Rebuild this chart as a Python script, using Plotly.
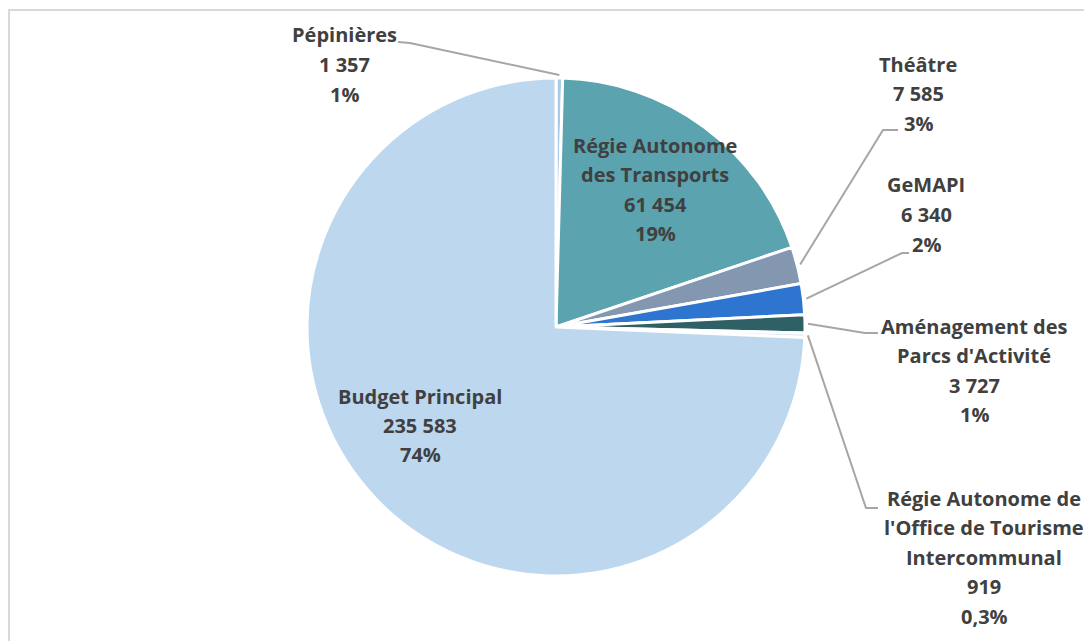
import math
import plotly.graph_objects as go

W, H = 1092, 641
OFF = 8  # page body margin

# data (clockwise from 12 o'clock)
names = [
    ["Pépinières"],
    ["Régie Autonome", "des Transports"],
    ["Théâtre"],
    ["GeMAPI"],
    ["Aménagement des", "Parcs d'Activité"],
    ["Régie Autonome de", "l'Office de Tourisme", "Intercommunal"],
    ["Budget Principal"],
]
values = [1357, 61454, 7585, 6340, 3727, 919, 235583]
pct_labels = ["1%", "19%", "3%", "2%", "1%", "0,3%", "74%"]
colors = ["#A9CBEA", "#5BA3AF", "#8497B0", "#2E75D0", "#2F6066", "#DDEBF7", "#BDD7EE"]

# layout: pie centre / radius in pixels, label placement
CX, CY, R = 556, 327, 249
label_pos = [(344, 35), (655, 145), (918, 64), (926, 185), (974, 326), (984, 498), (420, 396)]
line_step = 29.5
# leader lines (elbow, end) for outside labels, None for inside labels
leaders = [((410, 43), (398, 42)), None, ((883, 130), (898, 130)), ((902, 253), (909, 253)),
           ((865, 333), (878, 333)), ((866, 508), (878, 508)), None]

TEXT = "#404040"
FONT = "'Open Sans', sans-serif"


def px(x, y):
    return (x - OFF) / W, 1 - (y - OFF) / H


d0 = px(CX - R, CY + R)
d1 = px(CX + R, CY - R)
fig = go.Figure(go.Pie(
    labels=[" ".join(n) for n in names],
    values=values,
    sort=False,
    direction="clockwise",
    rotation=0,
    textinfo="none",
    marker=dict(colors=colors, line=dict(color="white", width=3)),
    domain=dict(x=[d0[0], d1[0]], y=[d0[1], d1[1]]),
    showlegend=False,
))

annotations = []
shapes = []
total = sum(values)
cum = 0
for name, v, pct, (lx, ly), lead in zip(names, values, pct_labels, label_pos, leaders):
    mid = (cum + v / 2) / total * 2 * math.pi
    cum += v
    lines = name + [f"{v:,}".replace(",", " "), pct]
    for i, t in enumerate(lines):
        x, y = px(lx, ly + i * line_step)
        annotations.append(dict(
            x=x, y=y, xref="paper", yref="paper", text=f"<b>{t}</b>", showarrow=False,
            xanchor="center", yanchor="middle",
            font=dict(family=FONT, size=20, color=TEXT),
        ))
    if lead:
        ax, ay = CX + (R + 3) * math.sin(mid), CY - (R + 3) * math.cos(mid)
        pts = [px(ax, ay), px(*lead[0]), px(*lead[1])]
        path = "M " + " L ".join(f"{a},{b}" for a, b in pts)
        shapes.append(dict(type="path", path=path, xref="paper", yref="paper",
                           line=dict(color="#A6A6A6", width=2)))

bx0, by0 = px(9, 10)
shapes.append(dict(type="rect", xref="paper", yref="paper", x0=bx0, y0=by0, x1=1.2, y1=-0.2,
                   line=dict(color="#D9D9D9", width=2)))

fig.update_layout(
    width=W, height=H,
    margin=dict(l=0, r=0, t=0, b=0),
    paper_bgcolor="white",
    plot_bgcolor="white",
    annotations=annotations,
    shapes=shapes,
)

fig.write_html("out.html")
